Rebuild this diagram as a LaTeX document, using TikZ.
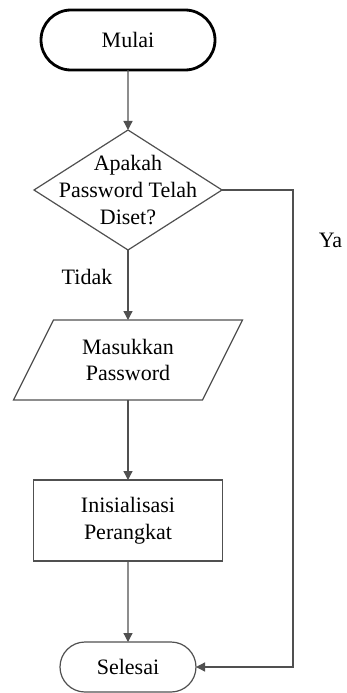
\documentclass[tikz,border=0pt]{standalone}
\usepackage{fontspec}
\setmainfont{Liberation Serif}
\newfontfamily\chartfont{Liberation Serif}
\usetikzlibrary{shapes.geometric,shapes.misc,arrows.meta}
\definecolor{linegray}{RGB}{80,80,80}
\begin{document}
\begin{tikzpicture}[x=1pt,y=-1pt,
  font=\chartfont\fontsize{22}{26.7}\selectfont,
  every node/.style={inner sep=0pt, outer sep=0pt, text=black},
  terminal/.style={rounded rectangle, draw, align=center},
  decision/.style={diamond, draw=linegray, line width=1.2pt},
  process/.style={rectangle, draw=linegray, line width=1.2pt, align=center},
  iobox/.style={rectangle, align=center},
  conn/.style={draw=linegray, line width=1.3pt, -{Triangle[width=9pt,length=9pt]}},
  lbl/.style={anchor=center}]
  \fill[white] (0,0) rectangle (346,693);
  \useasboundingbox (0,0) rectangle (346,693);

  % shapes
  \node[terminal, line width=2.8pt, minimum width=174pt, minimum height=60pt] (start) at (128,40) {Mulai};
  \node[decision, minimum width=188pt, minimum height=120pt] (dec) at (128,190) {};
  \node[align=center] (dectext) at (dec.center) {Apakah\\Password Telah\\Diset?};
  \node[iobox, minimum width=189pt, minimum height=80pt] (io) at (128,360) {Masukkan\\Password};
  \draw[linegray, line width=1.2pt]
    ([xshift=20pt]io.north west) -- ([xshift=20pt]io.north east)
    -- ([xshift=-20pt]io.south east) -- ([xshift=-20pt]io.south west) -- cycle;
  \node[process, minimum width=189pt, minimum height=81pt] (init) at (128,520.5) {Inisialisasi\\Perangkat};
  \node[terminal, draw=linegray, line width=1.2pt, minimum width=136pt, minimum height=50pt] (stop) at (128,667) {Selesai};

  % connectors
  \coordinate (bend) at (293,190);
  \draw[conn] (start) -- (dec);
  \draw[conn] (dec) -- (io);
  \draw[conn] (io) -- (init);
  \draw[conn] (init) -- (stop);
  \draw[conn] (dec.east) -- (bend) |- (stop.east);

  % branch labels
  \node[lbl] (tidak) at (87,276.5) {Tidak};
  \node[lbl] (ya) at (330.5,240) {Ya};
\end{tikzpicture}
\end{document}
